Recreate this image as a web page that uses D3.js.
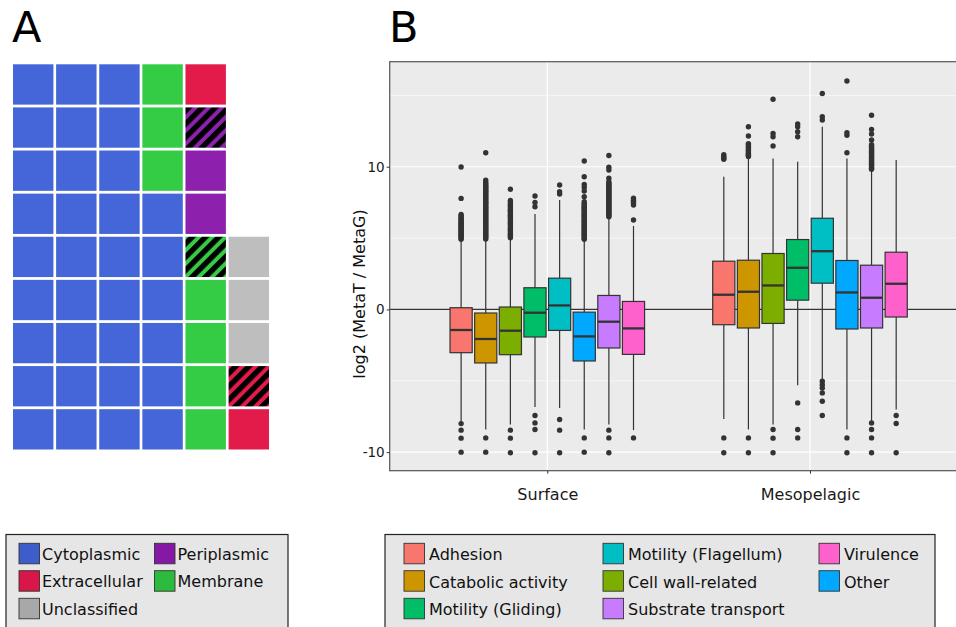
<!DOCTYPE html>
<html>
<head>
<meta charset="utf-8">
<script src="https://cdnjs.cloudflare.com/ajax/libs/d3/7.8.5/d3.min.js"></script>
<style>
  body { margin: 0; background: #fff; }
  svg { display: block; font-family: "DejaVu Sans", sans-serif; }
</style>
</head>
<body>
<svg id="fig" width="956" height="627"></svg>
<script>
// ---- panel A : waffle ----
const wafCats = ["Cytoplasmic", "Membrane", "Periplasmic", "Extracellular", "Unclassified"]
const wafFull = [33, 7, 2, 2, 3]
const wafPartial = [0, 1, 1, 1, 0]
const wafColors = ["#4466D8", "#33CC44", "#8E20AE", "#E31B4B", "#BEBEBE"]
const wafKeyColors = ["#3D5DCB", "#2DBB3D", "#8518A4", "#D8164A", "#A8A8A8"]
const wafLegendOrder = ["Cytoplasmic", "Periplasmic", "Extracellular", "Membrane", "Unclassified"]

// ---- panel B : boxplots ----
const groups = ["Surface", "Mesopelagic"]
const categories = ["Adhesion", "Catabolic activity", "Cell wall-related", "Motility (Gliding)",
  "Motility (Flagellum)", "Other", "Substrate transport", "Virulence"]
const catColors = ["#F8766D", "#CD9600", "#7CAE00", "#00BE67", "#00BFC4", "#00A9FF", "#C77CFF", "#FF61CC"]
const legendOrder = ["Adhesion", "Catabolic activity", "Motility (Gliding)", "Motility (Flagellum)",
  "Cell wall-related", "Substrate transport", "Virulence", "Other"]
const yTicks = [-10, 0, 10]
const yMinor = [-5, 5, 15]

// per category: lower whisker, q1, median, q3, upper whisker
const surfLo  = [-7.9, -8.41, -8.06, -6.83, -6.9, -8.41, -8.06, -8.46]
const surfQ1  = [-3.03, -3.75, -3.17, -1.93, -1.47, -3.61, -2.7, -3.15]
const surfMed = [-1.44, -2.07, -1.49, -0.23, 0.28, -1.89, -0.86, -1.33]
const surfQ3  = [0.12, -0.25, 0.17, 1.52, 2.19, -0.19, 0.98, 0.56]
const surfHi  = [4.87, 4.87, 4.99, 6.69, 7.67, 4.87, 6.46, 5.85]

const mesoLo  = [-7.67, -8.41, -8.06, -5.31, -4.87, -8.41, -7.83, -7.01]
const mesoQ1  = [-1.07, -1.3, -0.98, 0.65, 1.84, -1.37, -1.3, -0.53]
const mesoMed = [1.03, 1.24, 1.68, 2.92, 4.08, 1.19, 0.82, 1.8]
const mesoQ3  = [3.38, 3.45, 3.92, 4.9, 6.39, 3.43, 3.1, 4.01]
const mesoHi  = [9.3, 10.66, 10.58, 10.35, 12.8, 10.58, 9.77, 10.47]

const surfOut = [
  [4.92, 5.0, 5.07, 5.16, 5.22, 5.31, 5.37, 5.46, 5.53, 5.6, 5.69, 5.75, 5.84, 5.9, 5.99, 6.06, 6.12, 6.21, 6.3, 6.37, 6.48, 6.55, 6.66, 7.78, 9.98, -8.0, -8.46, -9.02, -10.0],
  [4.93, 5.02, 5.1, 5.19, 5.27, 5.36, 5.44, 5.53, 5.61, 5.7, 5.79, 5.87, 5.96, 6.04, 6.13, 6.21, 6.3, 6.39, 6.47, 6.56, 6.64, 6.73, 6.81, 6.9, 6.99, 7.07, 7.16, 7.24, 7.33, 7.42, 7.5, 7.59, 7.67, 7.76, 7.85, 7.93, 8.02, 8.1, 8.19, 8.28, 8.36, 8.45, 8.53, 8.62, 8.7, 8.8, 8.9, 9.05, 10.98, -9.0, -10.0],
  [5.02, 5.1, 5.18, 5.27, 5.35, 5.43, 5.51, 5.6, 5.68, 5.77, 5.85, 5.93, 6.02, 6.1, 6.19, 6.27, 6.35, 6.44, 6.52, 6.6, 6.69, 6.77, 6.86, 6.94, 7.02, 7.11, 7.19, 7.28, 7.36, 7.45, 7.53, 7.64, 8.42, -8.46, -9.02, -10.04],
  [7.2, 7.5, 7.95, -7.43, -7.95, -8.41, -10.04],
  [8.09, 8.25, 8.72, -7.71, -8.46, -10.04],
  [4.91, 4.99, 5.08, 5.16, 5.24, 5.33, 5.41, 5.49, 5.58, 5.66, 5.74, 5.83, 5.91, 5.99, 6.08, 6.16, 6.24, 6.33, 6.41, 6.5, 6.58, 6.66, 6.75, 6.83, 6.91, 7.0, 7.08, 7.16, 7.25, 7.33, 7.42, 7.55, 7.9, 8.3, 8.55, 8.75, 9.3, 10.4, -9.0, -10.0],
  [6.5, 6.58, 6.66, 6.75, 6.83, 6.91, 7.0, 7.08, 7.17, 7.25, 7.33, 7.42, 7.5, 7.58, 7.67, 7.75, 7.84, 7.92, 8.0, 8.09, 8.17, 8.25, 8.34, 8.42, 8.5, 8.59, 8.67, 8.76, 8.84, 8.95, 9.19, 9.77, 9.96, 10.79, -8.46, -9.0, -10.04],
  [6.27, 7.32, 7.45, 7.55, 7.66, 7.79, -9.0]
]
const mesoOut = [
  [10.52, 10.62, 10.72, 10.85, -9.0, -10.04],
  [10.72, 10.8, 10.88, 10.95, 11.05, 11.15, 11.25, 11.35, 11.45, 11.55, 11.62, 12.15, 12.8, -9.0, -10.04],
  [11.45, 12.1, 12.33, 14.73, -8.41, -9.02, -10.04],
  [12.1, 12.45, 12.8, 12.99, -6.55, -8.41, -9.0],
  [13.27, 13.5, 15.13, -5.03, -5.27, -5.5, -5.85, -6.43, -7.43],
  [10.98, 12.2, 12.38, 16.01, -9.0, -10.04],
  [9.82, 9.9, 9.98, 10.07, 10.15, 10.24, 10.32, 10.41, 10.49, 10.58, 10.66, 10.75, 10.83, 10.92, 11.0, 11.09, 11.17, 11.26, 11.34, 11.43, 11.55, 11.87, 12.29, 12.61, 13.61, -7.95, -8.41, -9.0, -10.04],
  [-7.43, -7.99, -10.04]
]

const svg = d3.select("#fig")

//defs for hatched cells
const defs = svg.append("defs")
wafColors.forEach((c, i) => {
  const p = defs.append("pattern")
    .attr("id", "hatch" + i)
    .attr("patternUnits", "userSpaceOnUse")
    .attr("width", 9.4).attr("height", 9.4)
    .attr("patternTransform", "rotate(45)")
  p.append("rect").attr("width", 9.4).attr("height", 9.4).attr("fill", c)
  p.append("rect").attr("x", 0).attr("width", 5.4).attr("height", 9.4).attr("fill", "#000")
})

// panel letters
svg.append("text").attr("x", 12).attr("y", 42).attr("font-size", 43).text("A")
svg.append("text").attr("x", 389).attr("y", 42).attr("font-size", 43).text("B")

// ---------- waffle ----------
let cells = []
wafCats.forEach((cat, ci) => {
  for (let k = 0; k < wafFull[ci]; k++) cells.push({ci: ci, hatch: false})
  for (let k = 0; k < wafPartial[ci]; k++) cells.push({ci: ci, hatch: true})
})
const nRows = 9
const wx = d3.scaleBand().domain(d3.range(6)).range([13, 13 + 6 * 42.67]).paddingInner(0.0625).paddingOuter(0)
const wy = d3.scaleBand().domain(d3.range(nRows)).range([64.3, 64.3 + 9 * 42.8]).paddingInner(0.065).paddingOuter(0)

//filled column by column, bottom to top
svg.append("g").selectAll("rect").data(cells).join("rect")
  .attr("x", (d, i) => wx(Math.floor(i / nRows)))
  .attr("y", (d, i) => wy(nRows - 1 - (i % nRows)))
  .attr("width", wx.bandwidth())
  .attr("height", wy.bandwidth())
  .attr("fill", d => d.hatch ? `url(#hatch${d.ci})` : wafColors[d.ci])

// ---------- boxplot panel ----------
const pTop = 61.7, pBot = 470.7, pLeft = 389.7, pRight = 967.6
const x = d3.scalePoint().domain(groups).range([pLeft, pRight]).padding(0.6)
const dodge = d3.scaleBand().domain(categories)
  .range([-0.375 * x.step(), 0.375 * x.step()]).paddingInner(0.1).paddingOuter(0.05)
const y = d3.scaleLinear().domain([-11.3, 17.36]).range([pBot, pTop])

svg.append("rect").attr("x", pLeft).attr("y", pTop)
  .attr("width", pRight - pLeft).attr("height", pBot - pTop).attr("fill", "#EBEBEB")

const grid = svg.append("g")
grid.selectAll(".minor").data(yMinor).join("line")
  .attr("x1", pLeft).attr("x2", pRight)
  .attr("y1", d => y(d)).attr("y2", d => y(d))
  .attr("stroke", "#fff").attr("stroke-width", 0.6)
grid.selectAll(".major").data(yTicks).join("line")
  .attr("x1", pLeft).attr("x2", pRight)
  .attr("y1", d => y(d)).attr("y2", d => y(d))
  .attr("stroke", "#fff").attr("stroke-width", 1.2)
grid.selectAll(".vx").data(groups).join("line")
  .attr("x1", d => x(d)).attr("x2", d => x(d))
  .attr("y1", pTop).attr("y2", pBot)
  .attr("stroke", "#fff").attr("stroke-width", 1.2)

// zero reference line
svg.append("line").attr("x1", pLeft).attr("x2", pRight)
  .attr("y1", y(0)).attr("y2", y(0))
  .attr("stroke", "#333").attr("stroke-width", 1.3)

const stats = {
  Surface: {lo: surfLo, q1: surfQ1, med: surfMed, q3: surfQ3, hi: surfHi, out: surfOut},
  Mesopelagic: {lo: mesoLo, q1: mesoQ1, med: mesoMed, q3: mesoQ3, hi: mesoHi, out: mesoOut}
}

groups.forEach(g => {
  const s = stats[g]
  const gg = svg.append("g")
  categories.forEach((cat, i) => {
    const bx = x(g) + dodge(cat)
    const bw = dodge.bandwidth()
    const cx = bx + bw / 2
    // whiskers
    gg.append("line").attr("x1", cx).attr("x2", cx)
      .attr("y1", y(s.q3[i])).attr("y2", y(s.hi[i]))
      .attr("stroke", "#333").attr("stroke-width", 1.2)
    gg.append("line").attr("x1", cx).attr("x2", cx)
      .attr("y1", y(s.q1[i])).attr("y2", y(s.lo[i]))
      .attr("stroke", "#333").attr("stroke-width", 1.2)
    // outliers
    gg.selectAll(null).data(s.out[i]).join("circle")
      .attr("cx", cx).attr("cy", d => y(d)).attr("r", 2.7)
      .attr("fill", "#333")
    // box
    gg.append("rect").attr("x", bx).attr("y", y(s.q3[i]))
      .attr("width", bw).attr("height", y(s.q1[i]) - y(s.q3[i]))
      .attr("fill", catColors[i]).attr("stroke", "#333").attr("stroke-width", 1.2)
    gg.append("line").attr("x1", bx).attr("x2", bx + bw)
      .attr("y1", y(s.med[i])).attr("y2", y(s.med[i]))
      .attr("stroke", "#333").attr("stroke-width", 2.3)
  })
})

// panel border
svg.append("rect").attr("x", pLeft).attr("y", pTop)
  .attr("width", pRight - pLeft).attr("height", pBot - pTop)
  .attr("fill", "none").attr("stroke", "#555").attr("stroke-width", 1.2)

// axes
const yAxis = d3.axisLeft(y).tickValues(yTicks).tickFormat(d => String(d)).tickSize(3).tickPadding(2)
const ya = svg.append("g").attr("transform", `translate(${pLeft},0)`).call(yAxis)
ya.select(".domain").remove()
ya.selectAll("line").attr("stroke", "#333")
ya.selectAll("text").attr("font-size", 13.5).attr("fill", "#1a1a1a").attr("font-family", "DejaVu Sans")

const xAxis = d3.axisBottom(x).tickSize(3).tickPadding(15)
const xa = svg.append("g").attr("transform", `translate(0,${pBot})`).call(xAxis)
xa.select(".domain").remove()
xa.selectAll("line").attr("stroke", "#333")
xa.selectAll("text").attr("font-size", 16).attr("fill", "#1a1a1a").attr("font-family", "DejaVu Sans")

svg.append("text")
  .attr("transform", "translate(365,294) rotate(-90)")
  .attr("text-anchor", "middle").attr("font-size", 16).attr("fill", "#111")
  .text("log2 (MetaT / MetaG)")

// ---------- legends ----------
const keyRowsY = [543.3, 570.7, 598.3]
const keySize = 20.5

function legendBox(bx, by, bwidth) {
  const lg = svg.append("g")
  lg.append("rect").attr("x", bx).attr("y", by).attr("width", bwidth).attr("height", 110)
    .attr("fill", "#E6E6E6").attr("stroke", "#222").attr("stroke-width", 1.2)
  return lg
}

// legend A : 2 columns, filled by row
const legAx = [19, 154.5]
const legA = legendBox(6, 534.5, 282)
wafLegendOrder.forEach((name, k) => {
  const kx = legAx[k % 2], ky = keyRowsY[Math.floor(k / 2)]
  const ci = wafCats.indexOf(name)
  legA.append("rect").attr("x", kx).attr("y", ky).attr("width", keySize).attr("height", keySize)
    .attr("fill", wafKeyColors[ci]).attr("stroke", "#333").attr("stroke-width", 0.9)
  legA.append("text").attr("x", kx + 23).attr("y", ky + 16.5)
    .attr("font-size", 16).attr("fill", "#111").text(name)
})

// legend B : 3 columns, filled by column
const legBx = [404, 603, 819]
const legB = legendBox(385, 534.5, 550)
legendOrder.forEach((name, k) => {
  const kx = legBx[Math.floor(k / 3)], ky = keyRowsY[k % 3]
  const ci = categories.indexOf(name)
  legB.append("rect").attr("x", kx).attr("y", ky).attr("width", keySize).attr("height", keySize)
    .attr("fill", catColors[ci]).attr("stroke", "#333").attr("stroke-width", 0.9)
  legB.append("text").attr("x", kx + 25).attr("y", ky + 17)
    .attr("font-size", 16).attr("fill", "#111").text(name)
})
</script>
</body>
</html>
